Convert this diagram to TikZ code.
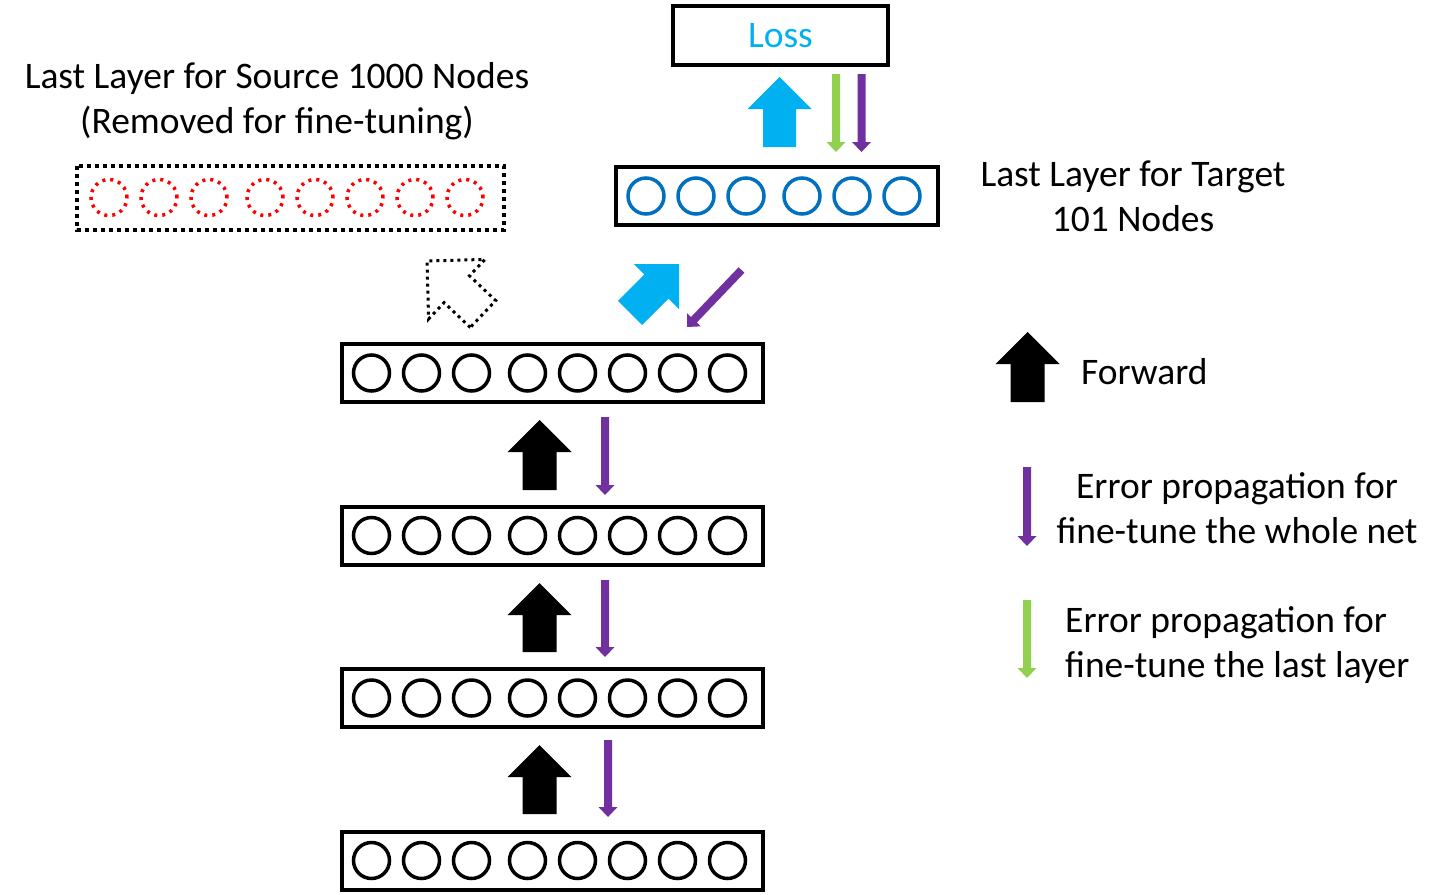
\documentclass[tikz,border=0pt]{standalone}
\usepackage{fontspec}
\setmainfont{Carlito}
\usetikzlibrary{calc}
\definecolor{fwdcyan}{HTML}{00B0F0}
\definecolor{unitblue}{HTML}{0070C0}
\definecolor{errpurple}{HTML}{7030A0}
\definecolor{errgreen}{HTML}{92D050}

% block arrow: [style] tail, tip, half shaft, half head, head length
\newcommand{\blockarrow}[6][]{%
  \coordinate (ba) at ($(#3)!#6!(#2)$);
  \path[#1] ($(#2)!#4!90:(#3)$) -- ($(ba)!#4!90:(#3)$) -- ($(ba)!#5!90:(#3)$) -- (#3)
    -- ($(ba)!#5!-90:(#3)$) -- ($(ba)!#4!-90:(#3)$) -- ($(#2)!#4!-90:(#3)$) -- cycle;}

\begin{document}
\begin{tikzpicture}[x=1pt,y=-1pt,
  txt/.style={font=\fontsize{37.5}{45}\selectfont,align=center,inner sep=0pt},
  layer/.style={rectangle,draw,line width=4pt,minimum height=58pt,inner sep=0pt},
  unit/.style={circle,draw,line width=3.5pt,minimum size=36pt,inner sep=0pt},
  dots/.style={line width=3.5pt,dash pattern=on 3pt off 5pt}]
\useasboundingbox (0,0) rectangle (1442,894);

% hidden layers
\node [layer,minimum width=421pt] (l1) at (552.5,373) {};
\node [layer,minimum width=421pt] (l2) at (552.5,535.5) {};
\node [layer,minimum width=421pt] (l3) at (552.5,698) {};
\node [layer,minimum width=421pt] (l4) at (552.5,860.5) {};
\foreach \l in {l1,l2,l3,l4}
  \foreach \dx [count=\i] in {-181,-131,-81,-25,25,75,125,175}
    \node [unit] (\l-\i) at ([xshift=\dx pt]\l.center) {};

% removed source layer
\node [layer,draw=none,minimum width=423pt,minimum height=60pt] (src) at (290,197.5) {};
\draw [dots,line width=4pt,dash pattern=on 4pt off 4pt] (src.north west) rectangle (src.south east);
\foreach \dx [count=\i] in {-181,-131,-81,-25,25,75,125,175}
  \node [unit,draw=red,dots] (src-\i) at ([xshift=\dx pt]src.center) {};
\node [txt] (srclabel) at (277,101) {Last Layer for Source 1000 Nodes\\(Removed for fine-tuning)};

% target layer and loss
\node [layer,minimum width=322pt] (tgt) at (777,196) {};
\foreach \dx [count=\i] in {-131,-81,-31,25,75,125}
  \node [unit,draw=unitblue] (tgt-\i) at ([xshift=\dx pt]tgt.center) {};
\node [txt] (tgtlabel) at (1133,196) {Last Layer for Target\\101 Nodes};
\node [layer,minimum width=215pt,minimum height=59pt,txt,text=fwdcyan] (loss) at (780.5,35.5) {Loss};

% forward arrows
\blockarrow[fill=black]{539.5,490}{539.5,420}{17pt}{32pt}{32pt}
\blockarrow[fill=black]{539.5,652}{539.5,583}{17pt}{32pt}{32pt}
\blockarrow[fill=black]{539.5,814}{539.5,745}{17pt}{32pt}{32pt}
\blockarrow[fill=fwdcyan]{630,313}{679,264}{17pt}{32pt}{32pt}
\blockarrow[fill=fwdcyan]{779.5,147}{779.5,77}{16.5pt}{32pt}{32pt}
\blockarrow[draw,line width=3pt,dash pattern=on 3pt off 4pt]{483,314}{427,261}{18.5pt}{41pt}{41pt}

% error arrows
\blockarrow[fill=errpurple]{605,417}{605,495}{4pt}{9.5pt}{10pt}
\blockarrow[fill=errpurple]{605,580}{605,657}{4pt}{9.5pt}{10pt}
\blockarrow[fill=errpurple]{608,740}{608,817}{4pt}{9.5pt}{10pt}
\blockarrow[fill=errpurple]{741.5,270}{687,327}{4pt}{9.5pt}{10pt}
\blockarrow[fill=errgreen]{836,74}{836,152}{4pt}{9.5pt}{10pt}
\blockarrow[fill=errpurple]{861.5,74}{861.5,152}{4pt}{9.5pt}{10pt}

% legend
\blockarrow[fill=black]{1027.5,402}{1027.5,332}{17pt}{32pt}{32pt}
\node [txt,anchor=west] (fwdlabel) at (1081,372) {Forward};
\blockarrow[fill=errpurple]{1027,467}{1027,546}{4pt}{9.5pt}{10pt}
\node [txt] (wholelabel) at (1237,508) {Error propagation for\\fine-tune the whole net};
\blockarrow[fill=errgreen]{1027,600}{1027,678}{4pt}{9.5pt}{10pt}
\node [txt,align=left,anchor=west] (lastlabel) at (1065,645) {Error propagation for\\fine-tune the last layer};
\end{tikzpicture}
\end{document}
